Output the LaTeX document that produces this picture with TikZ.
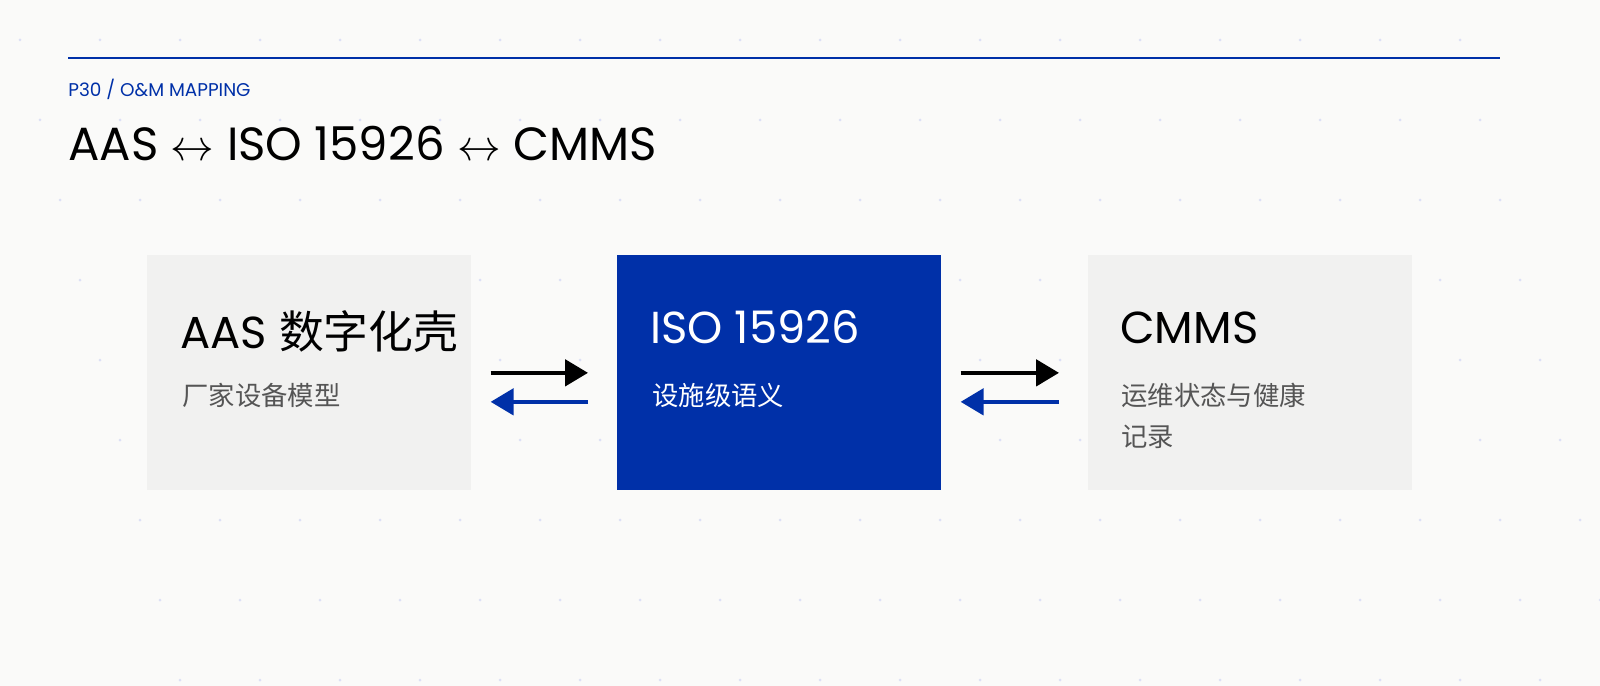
\documentclass[tikz,border=0pt]{standalone}
\usepackage{fontspec}
\setmainfont{Poppins}
\newfontfamily\cjk{Noto Sans CJK SC}
\usetikzlibrary{arrows.meta}
\definecolor{isoblue}{HTML}{0030A8}
\definecolor{boxgray}{HTML}{F1F1F0}
\definecolor{pagebg}{HTML}{FAFAF9}
\definecolor{subgray}{HTML}{555555}
\definecolor{dotblue}{HTML}{DCE0F5}

\begin{document}
\begin{tikzpicture}[x=0.02cm,y=-0.02cm]
        \tikzstyle{block}=[anchor=north west,minimum width=324*0.02cm,minimum height=235*0.02cm,inner sep=0pt]
        \tikzstyle{head}=[anchor=base west,font=\fontsize{25.5}{30}\selectfont,inner sep=0pt]
        \tikzstyle{sub}=[anchor=north west,font=\cjk\fontsize{15}{23}\selectfont,text=subgray,inner sep=0pt,align=left]
        \tikzstyle{fwd}=[draw=black,line width=2pt,-{Triangle[length=13pt,width=15pt]},shorten <=19*0.02cm,shorten >=29*0.02cm]
        \tikzstyle{back}=[draw=isoblue,line width=2pt,-{Triangle[length=13pt,width=15pt]},shorten <=29*0.02cm,shorten >=19*0.02cm]

        % Page and dotted grid
        \useasboundingbox (0,0) rectangle (1600,686);
        \fill[pagebg] (0,0) rectangle (1600,686);
        \begin{scope}
            \clip (0,0) rectangle (1600,686);
            \foreach \x in {60,140,...,1560}
                \foreach \y in {40,120,...,680}
                    \fill[dotblue] (\x+\y/4-50,\y) circle (1.5);
        \end{scope}

        % Header
        \draw[isoblue,line width=1.3pt] (68,58) -- (1500,58);
        \node[anchor=base west,inner sep=0pt,text=isoblue,font=\fontsize{10.5}{13}\selectfont] (tag) at (68,97) {P30 / O\&M MAPPING};
        \node[anchor=base west,inner sep=0pt,font=\fontsize{26.5}{32}\selectfont] (title) at (68,161) {AAS $\leftrightarrow$ ISO 15926 $\leftrightarrow$ CMMS};

        % Draw the three blocks
        \node[block,fill=boxgray] (aas) at (147,255) {};
        \node[block,fill=isoblue] (iso) at (617,255) {};
        \node[block,fill=boxgray] (cmms) at (1088,255) {};

        % Block texts
        \node[head] (aas-t) at (180,348) {AAS {\cjk 数字化壳}};
        \node[sub] (aas-s) at (182,383) {厂家设备模型};
        \node[head,text=white] (iso-t) at (650,343) {ISO 15926};
        \node[sub,text=white] (iso-s) at (652,383) {设施级语义};
        \node[head] (cmms-t) at (1120,343) {CMMS};
        \node[sub] (cmms-s) at (1121,383) {运维状态与健康\\记录};

        % Connect the blocks
        \draw[fwd] (aas.east) -- (iso.west);
        \draw[back] ([yshift=-29*0.02cm]iso.west) -- ([yshift=-29*0.02cm]aas.east);
        \draw[fwd] (iso.east) -- (cmms.west);
        \draw[back] ([yshift=-29*0.02cm]cmms.west) -- ([yshift=-29*0.02cm]iso.east);
\end{tikzpicture}
\end{document}
